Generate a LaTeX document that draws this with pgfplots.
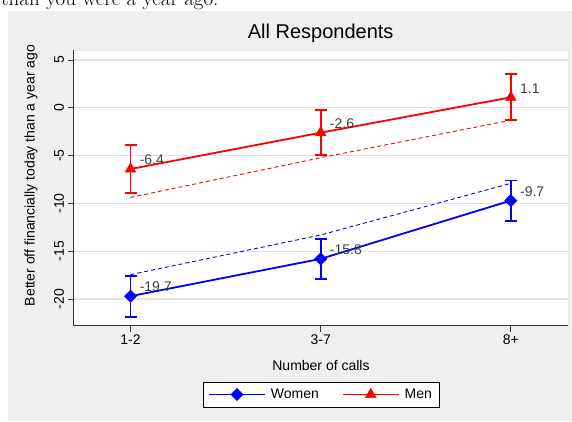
\documentclass[border=0pt]{standalone}
\usepackage{pgfplots}
\pgfplotsset{compat=1.18}
\usepackage{fontspec}
\newfontfamily\arial{Liberation Sans}
\definecolor{bgc}{RGB}{239,239,239}
\definecolor{gridc}{RGB}{226,226,226}
\definecolor{lblc}{RGB}{64,64,64}
\begin{document}
\begin{tikzpicture}
\useasboundingbox (0pt,0pt) rectangle (572pt,421pt);
\fill[white] (0pt,0pt) rectangle (572pt,421pt);
\node[anchor=base west, inner sep=0pt, font=\fontsize{21}{24}\selectfont] at (1pt,415pt) {than you were a year ago.};
\fill[bgc] (7.5pt,0pt) rectangle (572pt,410pt);
\begin{axis}[
  at={(73.5pt,95.5pt)}, anchor=south west,
  scale only axis, width=494.4pt, height=275.5pt,
  xmin=0.7, xmax=3.3, ymin=-22.77, ymax=6.05,
  axis lines*=left,
  axis line style={black!80, line width=0.9pt},
  axis background/.style={fill=white, draw=black!10},
  tick align=outside, major tick length=6pt,
  tick style={black!80, line width=0.8pt},
  xtick={1,2,3}, xticklabels={1-2,3-7,8+},
  ytick={-20,-15,-10,-5,0,5},
  /pgf/number format/assume math mode=true,
  ticklabel style={font=\arial\fontsize{14}{16}\selectfont},
  yticklabel style={rotate=90, anchor=south},
  ymajorgrids, major grid style={gridc, line width=1.2pt},
  title={All Respondents},
  title style={font=\arial\fontsize{20}{24}\selectfont, at={(0.5,1)}, anchor=base, yshift=5pt},
  xlabel={Number of calls},
  xlabel style={font=\arial\fontsize{14}{16}\selectfont, at={(axis description cs:0.5006,-0.1434)}, anchor=center},
  ylabel={Better off financially today than a year ago},
  ylabel style={font=\arial\fontsize{14}{16}\selectfont, at={(axis description cs:-0.086,0.5445)}, anchor=center},
  legend style={at={(axis description cs:0.5006,-0.2505)}, anchor=center, legend columns=2,
    draw=black, line width=0.8pt, fill=white, font=\arial\fontsize{14}{16}\selectfont,
    inner xsep=5pt, inner ysep=5pt,
    /tikz/every odd column/.append style={column sep=3pt},
    /tikz/every even column/.append style={column sep=21pt}},
  legend image code/.code={\draw[mark repeat=2, mark phase=2, #1, line width=1.8pt] plot coordinates {(0pt,0pt) (28pt,0pt) (56pt,0pt)};},
  nodes near coords={\pgfmathprintnumber[fixed,fixed zerofill,precision=1,assume math mode=true]{\pgfplotspointmeta}},
  every node near coord/.append style={anchor=west, inner sep=0pt, xshift=9pt, yshift=9pt, font=\arial\fontsize{14}{16}\selectfont, text=lblc},
]
% dashed reference lines
\addplot[blue, line width=0.9pt, dash pattern=on 4pt off 3pt, no marks, nodes near coords=\relax, forget plot] coordinates {(1,-17.45) (2,-13.3) (3,-7.9)};
\addplot[red, line width=0.9pt, dash pattern=on 4pt off 3pt, no marks, nodes near coords=\relax, forget plot] coordinates {(1,-9.37) (2,-5.22) (3,-1.29)};
% Women
\addplot[blue, line width=1.8pt, mark=square*, mark size=4.3pt, mark options={rotate=45, solid, line width=0.5pt, fill=blue},
  point meta=y,
  error bars/.cd, y dir=both, y explicit, error bar style={line width=1.8pt, blue},
  error mark options={rotate=90, mark size=6pt, line width=1.8pt, blue}]
  coordinates {(1,-19.7) +- (0,2.15) (2,-15.8) +- (0,2.1) (3,-9.7) +- (0,2.1)};
\addlegendentry{Women}
% Men
\addplot[red, line width=1.8pt, mark=triangle*, mark size=6.2pt, mark options={solid, line width=0.5pt, fill=red},
  point meta=y,
  error bars/.cd, y dir=both, y explicit, error bar style={line width=1.8pt, red},
  error mark options={rotate=90, mark size=6pt, line width=1.8pt, red}]
  coordinates {(1,-6.4) +- (0,2.5) (2,-2.6) +- (0,2.35) (3,1.1) +- (0,2.4)};
\addlegendentry{Men}
\end{axis}
\end{tikzpicture}
\end{document}
